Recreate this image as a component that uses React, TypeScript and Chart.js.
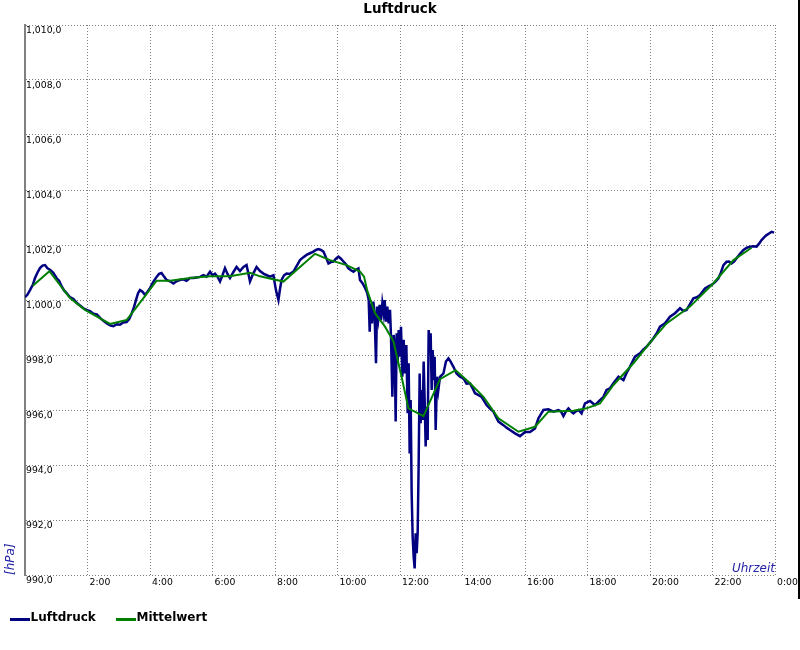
import React, { useEffect, useRef } from 'react';
import { Chart, registerables } from 'chart.js';

Chart.register(...registerables);

const chartTitle = 'Luftdruck';
const yAxisTitle = '[hPa]';
const xAxisTitle = 'Uhrzeit';

const xTickLabels = ['', '2:00', '4:00', '6:00', '8:00', '10:00', '12:00', '14:00', '16:00', '18:00', '20:00', '22:00', '0:00'];
const yTickLabels = ['990,0', '992,0', '994,0', '996,0', '998,0', '1,000,0', '1,002,0', '1,004,0', '1,006,0', '1,008,0', '1,010,0'];

const luftdruckHours = [
  0.0, 0.08, 0.16, 0.25, 0.32, 0.4, 0.48, 0.56, 0.64, 0.72, 0.8, 0.9, 1.01, 1.09, 1.17, 1.25, 1.33, 1.44, 1.55, 1.65,
  1.76, 1.87, 1.97, 2.08, 2.19, 2.3, 2.4, 2.5, 2.61, 2.72, 2.83, 2.94, 3.04, 3.14, 3.25, 3.33, 3.41, 3.49, 3.57, 3.62,
  3.68, 3.76, 3.84, 3.92, 4.0, 4.1, 4.21, 4.29, 4.37, 4.45, 4.53, 4.64, 4.75, 4.85, 4.96, 5.06, 5.17, 5.28, 5.39, 5.49,
  5.6, 5.71, 5.81, 5.92, 6.0, 6.08, 6.16, 6.24, 6.32, 6.4, 6.48, 6.56, 6.66, 6.77, 6.88, 6.99, 7.09, 7.14, 7.2, 7.3,
  7.41, 7.52, 7.63, 7.74, 7.84, 7.95, 8.03, 8.11, 8.16, 8.21, 8.29, 8.37, 8.48, 8.59, 8.7, 8.8, 8.9, 9.01, 9.12, 9.23,
  9.31, 9.39, 9.47, 9.55, 9.63, 9.71, 9.79, 9.87, 9.95, 10.03, 10.11, 10.19, 10.27, 10.35, 10.43, 10.51, 10.59, 10.67,
  10.72, 10.805, 10.89, 10.955, 10.998, 11.03, 11.06, 11.104, 11.147, 11.189, 11.232, 11.264, 11.307, 11.349, 11.392, 11.435, 11.477, 11.509, 11.552, 11.595,
  11.637, 11.68, 11.712, 11.755, 11.797, 11.829, 11.861, 11.893, 11.925, 11.957, 12.0, 12.032, 12.075, 12.117, 12.16, 12.203, 12.245, 12.277, 12.309, 12.341,
  12.373, 12.405, 12.437, 12.469, 12.501, 12.533, 12.565, 12.597, 12.629, 12.661, 12.693, 12.725, 12.757, 12.789, 12.821, 12.853, 12.885, 12.917, 12.949, 12.981,
  13.013, 13.045, 13.077, 13.109, 13.141, 13.184, 13.227, 13.28, 13.39, 13.47, 13.55, 13.62, 13.71, 13.81, 13.92,
  14.03, 14.13, 14.24, 14.35, 14.4, 14.5, 14.61, 14.77, 14.88,
  14.99, 15.15, 15.31, 15.42, 15.52, 15.68, 15.84, 16.0, 16.16, 16.32, 16.43, 16.51, 16.59, 16.75, 16.91, 17.07, 17.15, 17.23, 17.31, 17.39,
  17.47, 17.55, 17.63, 17.71, 17.81, 17.92, 18.08, 18.24, 18.4, 18.51, 18.61, 18.72, 18.83, 18.99, 19.15, 19.25, 19.36, 19.52, 19.68, 19.79,
  19.89, 20.0, 20.11, 20.22, 20.32, 20.48, 20.64, 20.8, 20.96, 21.07, 21.17, 21.28, 21.39, 21.5, 21.6, 21.76, 21.87, 21.97, 22.08, 22.19,
  22.27, 22.35, 22.45, 22.53, 22.61, 22.69, 22.77, 22.88, 22.99, 23.1, 23.2, 23.31, 23.41, 23.49, 23.57, 23.65, 23.73, 23.81, 23.89, 23.97,
];

const luftdruckValues = [
  1000.1, 1000.2, 1000.36, 1000.55, 1000.8, 1001.0, 1001.16, 1001.25, 1001.27, 1001.15, 1001.1, 1001.0, 1000.8, 1000.7, 1000.5, 1000.35, 1000.25, 1000.1, 1000.04, 999.9,
  999.8, 999.7, 999.64, 999.6, 999.5, 999.48, 999.35, 999.25, 999.16, 999.08, 999.05, 999.12, 999.1, 999.18, 999.2, 999.3, 999.5, 999.75, 1000.07, 1000.25,
  1000.36, 1000.3, 1000.18, 1000.3, 1000.43, 1000.65, 1000.84, 1000.95, 1000.98, 1000.85, 1000.73, 1000.68, 1000.6, 1000.68, 1000.73, 1000.75, 1000.7, 1000.8, 1000.8, 1000.82,
  1000.84, 1000.9, 1000.85, 1001.03, 1000.9, 1000.96, 1000.85, 1000.67, 1000.9, 1001.16, 1000.95, 1000.8, 1001.0, 1001.2, 1001.05, 1001.2, 1001.27, 1001.0, 1000.67, 1000.95,
  1001.2, 1001.05, 1000.96, 1000.9, 1000.85, 1000.9, 1000.36, 1000.0, 1000.4, 1000.73, 1000.9, 1000.96, 1000.95, 1001.03, 1001.25, 1001.45, 1001.55, 1001.64, 1001.7, 1001.76,
  1001.82, 1001.85, 1001.82, 1001.76, 1001.55, 1001.33, 1001.38, 1001.4, 1001.5, 1001.58, 1001.5, 1001.4, 1001.3, 1001.15, 1001.08, 1001.03, 1001.1, 1001.15,
  1000.73, 1000.6, 1000.42, 1000.24, 1000.0, 998.85, 999.88, 999.15, 999.94, 999.39, 997.7, 999.76, 999.33, 999.82, 999.27, 999.88, 999.52, 1000.0, 999.21, 999.76,
  999.15, 999.64, 998.67, 996.48, 998.73, 998.3, 995.58, 998.79, 997.7, 998.91, 997.94, 999.03, 997.21, 998.55, 997.33, 998.36, 995.88, 997.7, 994.42, 996.36,
  992.97, 991.39, 990.67, 990.24, 991.52, 990.79, 991.52, 994.06, 997.33, 995.52, 996.73, 995.64, 997.76, 996.36, 994.67, 996.12, 994.91, 998.91, 998.42, 998.79,
  996.73, 998.18, 997.09, 997.94, 995.27, 997.21, 996.73, 997.21, 997.33, 997.76, 997.88, 997.76, 997.57, 997.33, 997.21,
  997.15, 996.96, 996.97, 996.73, 996.61, 996.55, 996.48, 996.18, 996.05,
  995.94, 995.58, 995.45, 995.35, 995.27, 995.15, 995.05, 995.2, 995.2, 995.33, 995.7, 995.85, 996.0, 996.03, 995.94, 996.0, 995.95, 995.78, 995.95, 996.06,
  995.95, 995.88, 995.95, 996.0, 995.88, 996.24, 996.33, 996.18, 996.36, 996.48, 996.73, 996.79, 996.97, 997.21, 997.09, 997.35, 997.58, 997.94, 998.06, 998.2,
  998.3, 998.45, 998.61, 998.8, 999.03, 999.15, 999.39, 999.52, 999.7, 999.6, 999.64, 999.85, 1000.06, 1000.1, 1000.18, 1000.42, 1000.5, 1000.55, 1000.65, 1000.79,
  1001.0, 1001.27, 1001.39, 1001.4, 1001.33, 1001.4, 1001.52, 1001.68, 1001.82, 1001.9, 1001.94, 1001.95, 1001.94, 1002.05, 1002.18, 1002.28, 1002.36, 1002.42, 1002.48, 1002.45,
];

const mittelwertHours = [
  0.25, 0.78, 1.44, 1.92, 2.72, 3.25, 3.79, 4.21, 4.64, 5.28, 5.92, 6.56, 7.2, 7.52, 8.27, 8.8, 9.28, 9.76, 10.29, 10.72,
  10.85, 10.95, 11.2, 11.52, 11.79, 12.05, 12.27, 12.75, 13.28, 13.78, 14.24, 14.67, 15.15, 15.79, 16.32, 16.75, 17.55, 17.97, 18.4, 18.83,
  19.47, 20.02, 20.53, 21.28, 22.03, 22.67, 23.25,
];

const mittelwertValues = [
  1000.52, 1001.05, 1000.07, 999.64, 999.13, 999.27, 1000.07, 1000.7, 1000.7, 1000.8, 1000.86, 1000.86, 1000.99, 1000.86, 1000.67, 1001.2, 1001.68, 1001.45, 1001.27, 1001.03,
  1000.85, 1000.35, 999.52, 999.03, 998.5, 997.21, 996.06, 995.78, 997.12, 997.45, 996.97, 996.48, 995.7, 995.21, 995.39, 995.94, 995.97, 996.06, 996.24, 996.91,
  997.7, 998.48, 999.15, 999.76, 1000.61, 1001.45, 1001.9,
];

const FONT = '"DejaVu Sans", Verdana, sans-serif';

const decorPlugin = {
  id: 'decor',
  afterDraw(chart: any) {
    const ctx = chart.ctx as CanvasRenderingContext2D;
    const a = chart.chartArea;
    ctx.save();
    // title
    ctx.fillStyle = '#000000';
    ctx.font = `bold 13.5px ${FONT}`;
    ctx.textAlign = 'center';
    ctx.textBaseline = 'alphabetic';
    ctx.fillText(chartTitle, 400, 12.5);
    // x axis title inside the plot
    ctx.fillStyle = '#2424a8';
    ctx.font = `oblique 12px ${FONT}`;
    ctx.textAlign = 'right';
    ctx.fillText(xAxisTitle, a.right, a.bottom - 3.5);
    // y axis title rotated
    ctx.save();
    ctx.translate(14, a.bottom);
    ctx.rotate(-Math.PI / 2);
    ctx.textAlign = 'left';
    ctx.fillText(yAxisTitle, 0, 0);
    ctx.restore();
    // legend
    const legendX = [10, 116];
    chart.data.datasets.forEach((ds: any, i: number) => {
      const x = legendX[i];
      ctx.strokeStyle = ds.borderColor;
      ctx.lineWidth = 3;
      ctx.beginPath();
      ctx.moveTo(x, 619.5);
      ctx.lineTo(x + 20, 619.5);
      ctx.stroke();
      ctx.fillStyle = '#000000';
      ctx.font = `bold 12px ${FONT}`;
      ctx.textAlign = 'left';
      ctx.fillText(ds.label, x + 20.5, 621);
    });
    // image frame edge on the right
    ctx.fillStyle = '#000000';
    ctx.fillRect(798, 0, 2, 599);
    ctx.restore();
  },
};

export default function App() {
  const canvasRef = useRef<HTMLCanvasElement | null>(null);

  useEffect(() => {
    document.body.style.margin = '0';
    const canvas = canvasRef.current;
    if (!canvas) return;
    const chart = new Chart(canvas, {
      type: 'line',
      data: {
        datasets: [
          {
            label: 'Luftdruck',
            data: luftdruckHours.map((h, i) => ({ x: h, y: luftdruckValues[i] })),
            borderColor: '#000080',
            backgroundColor: '#000080',
            borderWidth: 2.5,
            pointRadius: 0,
            tension: 0,
            order: 1,
          },
          {
            label: 'Mittelwert',
            data: mittelwertHours.map((h, i) => ({ x: h, y: mittelwertValues[i] })),
            borderColor: '#008000',
            backgroundColor: '#008000',
            borderWidth: 2,
            pointRadius: 0,
            tension: 0,
            order: 0,
          },
        ],
      },
      options: {
        animation: false,
        responsive: false,
        maintainAspectRatio: false,
        devicePixelRatio: 1,
        layout: { padding: { left: 0, right: 25, top: 25, bottom: 55 } },
        plugins: {
          legend: { display: false },
          title: { display: false },
          tooltip: { enabled: false },
        },
        scales: {
          x: {
            type: 'linear',
            min: 0,
            max: 24,
            afterFit: (scale: any) => { scale.height = 20; },
            ticks: {
              stepSize: 2,
              autoSkip: false,
              maxRotation: 0,
              align: 'start',
              padding: 2,
              labelOffset: 2,
              color: '#000000',
              font: { family: FONT, size: 9.3 },
              callback: (_v: any, i: number) => xTickLabels[i],
            },
            grid: { color: '#808080', lineWidth: 1, drawTicks: false },
            border: { display: false, dash: [1, 2] },
          },
          y: {
            type: 'linear',
            min: 990,
            max: 1010,
            afterFit: (scale: any) => { scale.width = 25; },
            ticks: {
              stepSize: 2,
              autoSkip: false,
              mirror: true,
              padding: 1,
              labelOffset: 6,
              color: '#000000',
              font: { family: FONT, size: 9.3 },
              callback: (_v: any, i: number) => yTickLabels[i],
            },
            grid: { color: '#808080', lineWidth: 1, drawTicks: false },
            border: { display: true, color: '#808080', width: 2, dash: [1, 2] },
          },
        },
      },
      plugins: [decorPlugin],
    } as any);
    return () => chart.destroy();
  }, []);

  return (
    <div style={{ position: 'relative', width: 800, height: 650 }}>
      <canvas ref={canvasRef} width={800} height={650} style={{ display: 'block' }} />
    </div>
  );
}
